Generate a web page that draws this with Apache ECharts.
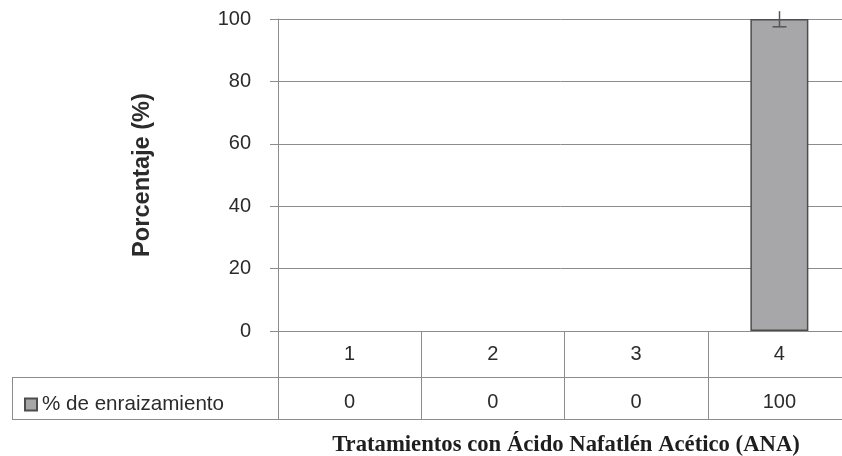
<!DOCTYPE html>
<html>
<head>
<meta charset="utf-8">
<script src="https://cdn.jsdelivr.net/npm/echarts@6/dist/echarts.min.js"></script>
<style>
  html, body { margin: 0; padding: 0; background: #fff; }
  #chart { width: 842px; height: 456px; }
</style>
</head>
<body>
<div id="chart"></div>
<script>
var categories = ['1', '2', '3', '4'];
var rooting = [0, 0, 0, 100];          // % de enraizamiento
var rootingErr = [0, 0, 0, 2.5];       // barra de error
var yTicks = [0, 20, 40, 60, 80, 100];

var seriesName = '% de enraizamiento';
var lineColor = '#8c8c8c';
var textColor = '#2b2b2b';
var barStyle = { color: '#a7a7aa', borderColor: '#4d4d4d', borderWidth: 1.5 };

var myChart = echarts.init(document.getElementById('chart'));

var option = {
    backgroundColor: '#fff',
    animation: false,
    textStyle: { fontFamily: 'Liberation Sans, Arial, sans-serif' },
    grid: { left: 278, width: 573, top: 19, height: 312, outerBoundsMode: 'none', containLabel: false },
    legend: {
        data: [seriesName],
        left: 19,
        top: 389,
        icon: 'rect',
        itemWidth: 12,
        itemHeight: 12,
        itemGap: 6,
        textStyle: { fontSize: 20.6, color: textColor }
    },
    xAxis: [{
        type: 'category',
        data: categories,
        position: 'bottom',
        axisLine: { show: true, lineStyle: { color: lineColor, width: 1 } },
        axisTick: { show: true, length: 88, interval: 0, lineStyle: { color: lineColor } },
        axisLabel: { margin: 13, fontSize: 20, color: textColor }
    }, {
        type: 'category',
        data: categories,
        position: 'bottom',
        axisLine: { show: false },
        axisTick: { show: false },
        axisLabel: {
            margin: 61, fontSize: 20, color: textColor,
            formatter: function (v, i) { return String(rooting[i]); }
        }
    }],
    yAxis: {
        type: 'value',
        min: yTicks[0],
        max: yTicks[yTicks.length - 1],
        interval: 20,
        name: 'Porcentaje (%)',
        nameLocation: 'middle',
        nameGap: 124,
        nameTextStyle: { fontSize: 23.6, fontWeight: 'bold', color: textColor },
        axisLine: { show: true, lineStyle: { color: lineColor } },
        axisTick: { show: true, length: 8, lineStyle: { color: lineColor } },
        axisLabel: { margin: 27, fontSize: 20, color: textColor },
        splitLine: { lineStyle: { color: lineColor, width: 1 } }
    },
    graphic: [
        { type: 'line', shape: { x1: 12, y1: 377.5, x2: 842, y2: 377.5 }, style: { stroke: lineColor, lineWidth: 1 } },
        { type: 'line', shape: { x1: 12, y1: 419.5, x2: 842, y2: 419.5 }, style: { stroke: lineColor, lineWidth: 1 } },
        { type: 'line', shape: { x1: 12.5, y1: 377, x2: 12.5, y2: 420 }, style: { stroke: lineColor, lineWidth: 1 } },
        {
            type: 'text', x: 566, y: 434,
            style: {
                text: 'Tratamientos con Ácido Nafatlén Acético (ANA)',
                font: 'bold 22.7px "Liberation Serif", "Times New Roman", serif',
                fill: '#1e1e1e',
                textAlign: 'center'
            }
        }
    ],
    series: [{
        name: seriesName,
        type: 'bar',
        data: rooting.map(function (v) {
            return v === 0 ? { value: v, itemStyle: { borderWidth: 0, opacity: 0 } } : v;
        }),
        barWidth: 58,
        itemStyle: barStyle
    }, {
        name: 'error',
        type: 'custom',
        clip: false,
        z: 5,
        data: rooting.map(function (v, i) { return [i, v - rootingErr[i], v + rootingErr[i]]; }),
        renderItem: function (params, api) {
            if (api.value(2) - api.value(1) === 0) return null;
            var lo = api.coord([api.value(0), api.value(1)]);
            var hi = api.coord([api.value(0), api.value(2)]);
            var x = Math.round(lo[0]) + 0.5;
            var st = { stroke: '#555', lineWidth: 1.5 };
            return {
                type: 'group',
                children: [
                    { type: 'line', shape: { x1: x, y1: lo[1], x2: x, y2: hi[1] }, style: st },
                    { type: 'line', shape: { x1: x - 7, y1: lo[1], x2: x + 7, y2: lo[1] }, style: st }
                ]
            };
        }
    }]
};
myChart.setOption(option);
</script>
</body>
</html>
